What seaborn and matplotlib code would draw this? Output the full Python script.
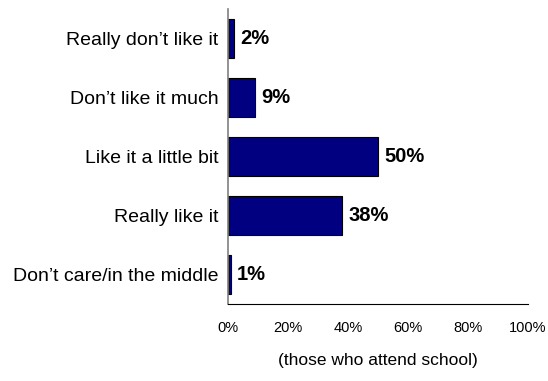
import matplotlib
matplotlib.use("Agg")
import matplotlib.pyplot as plt
from matplotlib import font_manager
import seaborn as sns
import pandas as pd

categories = ["Really don\u2019t like it", "Don\u2019t like it much", "Like it a little bit",
              "Really like it", "Don\u2019t care/in the middle"]
values = [2, 9, 50, 38, 1]
tick_values = [0, 20, 40, 60, 80, 100]
tick_labels = ["0%", "20%", "40%", "60%", "80%", "100%"]

sns.set_style("white")
plt.rcParams["font.family"] = ["Liberation Sans", "DejaVu Sans"]
for k in ["text.color", "axes.labelcolor", "xtick.color", "ytick.color"]:
    plt.rcParams[k] = "black"

names = {f.name for f in font_manager.fontManager.ttflist}
if "Liberation Sans Narrow" in names:
    cat_font = dict(family=["Liberation Sans Narrow", "DejaVu Sans"], size=16.5)
else:
    cat_font = dict(family=["Liberation Sans", "DejaVu Sans"], size=14)

df = pd.DataFrame({"cat": categories, "val": values})

fig = plt.figure(figsize=(5.48, 3.81), dpi=100)
ax = fig.add_axes([0.416, 0.2021, 0.5475, 0.7743])
sns.barplot(data=df, x="val", y="cat", orient="h", color="#000080", saturation=1,
            width=0.65, edgecolor="black", linewidth=0.8, ax=ax)

ax.set_xlim(0, 100)
ax.set_ylim(4.5, -0.5)
ax.set_xticks(tick_values)
ax.set_xticklabels(tick_labels, fontsize=10.5)
ax.tick_params(axis="x", direction="out", length=3, width=0.8, color="black", pad=9)
ax.tick_params(axis="y", length=0, pad=7)
for lab in ax.get_yticklabels():
    lab.set_fontfamily(cat_font["family"])
    lab.set_fontsize(cat_font["size"])
ax.set_ylabel("")
ax.set_xlabel("(those who attend school)", fontsize=12.5, labelpad=13)
for s in ["top", "right"]:
    ax.spines[s].set_visible(False)
ax.spines["left"].set_color("#808080")
ax.spines["left"].set_linewidth(1.2)
ax.spines["bottom"].set_color("black")
ax.spines["bottom"].set_linewidth(0.8)

for i, v in enumerate(values):
    ax.annotate(f"{v}%", xy=(v, i), xytext=(4.5, 0), textcoords="offset points",
                va="center", ha="left", fontsize=14.5, fontweight="bold")

fig.savefig("out.png", dpi=100)
